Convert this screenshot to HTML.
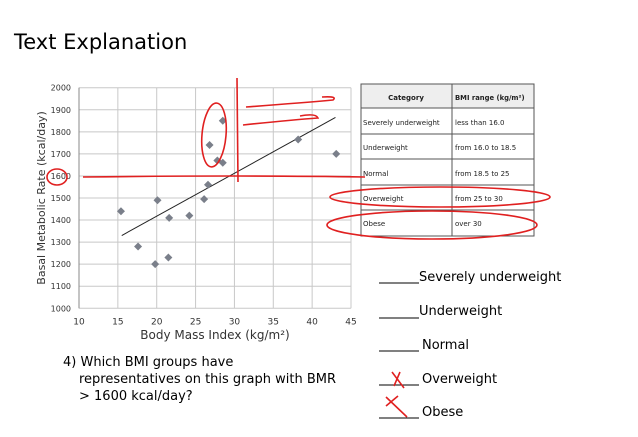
<!DOCTYPE html>
<html><head><meta charset="utf-8"><style>
body{margin:0;background:#fff;}
svg{display:block;font-family:"DejaVu Sans","Liberation Sans",sans-serif;}
</style></head><body>
<svg id="s" width="638" height="437" viewBox="0 0 638 437">
<text x="14" y="49" font-size="21" fill="#000">Text Explanation</text>
<g id="grid"></g>
<g id="axes"></g>
<g id="pts"></g>
<text x="215" y="339" font-size="12" text-anchor="middle" fill="#333">Body Mass Index (kg/m²)</text>
<text transform="translate(45,198) rotate(-90)" font-size="11" text-anchor="middle" fill="#333">Basal Metabolic Rate (kcal/day)</text>
<g font-size="13" fill="#000">
<text x="63" y="366">4) Which BMI groups have</text>
<text x="79" y="383">representatives on this graph with BMR</text>
<text x="79" y="400">&gt; 1600 kcal/day?</text>
</g>
<g font-size="7" fill="#222">
<rect x="361" y="84" width="173" height="24" fill="#eee"/>
<rect x="361" y="84" width="173" height="152" fill="none" stroke="#555" stroke-width="1"/>
<line x1="452" y1="84" x2="452" y2="236" stroke="#555"/>
<line x1="361" y1="108" x2="534" y2="108" stroke="#555"/>
<line x1="361" y1="134" x2="534" y2="134" stroke="#555"/>
<line x1="361" y1="159" x2="534" y2="159" stroke="#555"/>
<line x1="361" y1="185" x2="534" y2="185" stroke="#555"/>
<line x1="361" y1="210" x2="534" y2="210" stroke="#555"/>
<text x="406" y="100" text-anchor="middle" font-weight="bold">Category</text>
<text x="455" y="100" font-weight="bold" font-size="6.8">BMI range (kg/m²)</text>
<text x="363" y="125">Severely underweight</text><text x="455" y="125">less than 16.0</text>
<text x="363" y="150">Underweight</text><text x="455" y="150">from 16.0 to 18.5</text>
<text x="363" y="176">Normal</text><text x="455" y="176">from 18.5 to 25</text>
<text x="363" y="201">Overweight</text><text x="455" y="201">from 25 to 30</text>
<text x="363" y="226">Obese</text><text x="455" y="226">over 30</text>
</g>
<g font-size="13" fill="#000" stroke-width="1">
<line x1="379" y1="283" x2="419" y2="283" stroke="#000"/><text x="419" y="281">Severely underweight</text>
<line x1="379" y1="318" x2="419" y2="318" stroke="#000"/><text x="419" y="315">Underweight</text>
<line x1="379" y1="351" x2="419" y2="351" stroke="#000"/><text x="422" y="349">Normal</text>
<line x1="379" y1="385" x2="419" y2="385" stroke="#000"/><text x="422" y="383">Overweight</text>
<line x1="379" y1="418" x2="419" y2="418" stroke="#000"/><text x="422" y="416">Obese</text>
</g>
<g fill="none" stroke="#e02020" stroke-width="1.6">
<ellipse cx="57" cy="177" rx="10" ry="8"/>
<path d="M83 177 Q250 175 365 177"/>
<ellipse cx="214" cy="135" rx="12" ry="32" transform="rotate(5 214 135)"/>
<path d="M237 78 L238 182"/>
<path d="M246 107 Q300 103 333 100 Q338 96 322 97"/>
<path d="M243 125 Q290 120 318 118 Q316 113 300 116"/>
<ellipse cx="440" cy="197" rx="110" ry="10"/>
<ellipse cx="432" cy="225" rx="105" ry="14"/>
<path d="M392 372 L404 388 M394 386 L400 372"/>
<path d="M386 406 L398 396 M386 397 L407 417"/>
</g>
</svg>
<script>
const xTicks=[10,15,20,25,30,35,40,45];
const yTicks=[1000,1100,1200,1300,1400,1500,1600,1700,1800,1900,2000];
const bmi=[15.4,17.6,19.8,20.1,21.5,21.6,24.2,26.1,26.6,26.8,27.8,28.5,28.5,38.2,43.1];
const bmr=[1440,1280,1200,1490,1230,1410,1420,1495,1560,1740,1670,1660,1850,1765,1700];
const trendX=[15.5,43];
const trendY=[1330,1865];
const X=v=>79+(v-10)*(272/35);
const Y=v=>308.3-(v-1000)*0.2206;
const NS="http://www.w3.org/2000/svg";
function mk(tag,parent,attrs){const e=document.createElementNS(NS,tag);for(const k in attrs)e.setAttribute(k,attrs[k]);parent.appendChild(e);return e;}
const g=document.getElementById('grid'),ax=document.getElementById('axes'),p=document.getElementById('pts');
xTicks.forEach(t=>{
 const l=mk('line',g,{x1:X(t),x2:X(t),y1:Y(2000),y2:Y(1000),stroke:'#c8c8c8'});
 
 
 const tx=mk('text',ax,{x:X(t),y:Y(1000)+16,'font-size':9,'text-anchor':'middle',fill:'#333'});
 tx.textContent=t;
 
 
});
yTicks.forEach(t=>{
 const l=mk('line',g,{x1:X(10),x2:X(45),y1:Y(t),y2:Y(t),stroke:'#c8c8c8'});
 
 
 const tx=mk('text',ax,{x:X(10)-8,y:Y(t)+3,'font-size':8,'text-anchor':'end',fill:'#333'});
 tx.textContent=t;
 
 
});
const al=mk('line',ax,{x1:X(10),x2:X(10),y1:Y(2000),y2:Y(1000),stroke:'#888'});


const tl=mk('line',p,{x1:X(trendX[0]),y1:Y(trendY[0]),x2:X(trendX[1]),y2:Y(trendY[1]),stroke:'#222','stroke-width':1});


bmi.forEach((b,i)=>{
 const cx=X(b),cy=Y(bmr[i]);
 const d=mk('polygon',p,{points:`${cx},${cy-4} ${cx+4},${cy} ${cx},${cy+4} ${cx-4},${cy}`,fill:'#7a7f8a'});
 
 
});
</script>
</body></html>
